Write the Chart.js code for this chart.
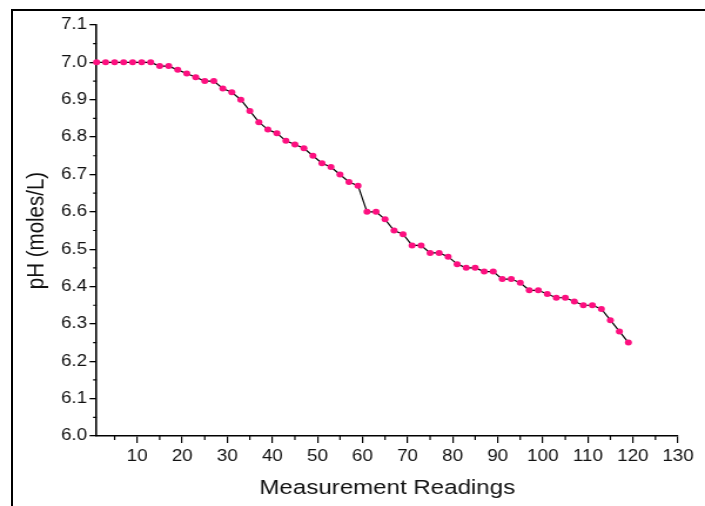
<!DOCTYPE html>
<html lang="en">
<head>
  <meta charset="UTF-8">
  <title>pH vs Measurement Readings</title>
  <script src="https://cdn.jsdelivr.net/npm/chart.js@4.4.0/dist/chart.umd.min.js"></script>
  <style>
    html, body { margin: 0; padding: 0; background: #fff; }
    #wrap { position: relative; width: 705px; height: 506px; overflow: hidden; }
    #frame {
      position: absolute; left: 11px; top: 9px; width: 720px; height: 520px;
      border-left: 2px solid #000; border-top: 2px solid #000;
    }
    /* the plot is drawn narrow and stretched sideways to fill the page */
    #plot { position: absolute; left: 0; top: 0; width: 600px; height: 506px;
            transform: scaleX(1.175); transform-origin: 0 0; }
  </style>
</head>
<body>
  <div id="wrap">
    <div id="frame"></div>
    <div id="plot"><canvas id="phChart" width="600" height="506"></canvas></div>
  </div>
  <script>
    const readings = [1, 3, 5, 7, 9, 11, 13, 15, 17, 19, 21, 23, 25, 27, 29, 31, 33, 35, 37, 39,
      41, 43, 45, 47, 49, 51, 53, 55, 57, 59, 61, 63, 65, 67, 69, 71, 73, 75, 77, 79,
      81, 83, 85, 87, 89, 91, 93, 95, 97, 99, 101, 103, 105, 107, 109, 111, 113, 115, 117, 119];
    const phValues = [7.00, 7.00, 7.00, 7.00, 7.00, 7.00, 7.00, 6.99, 6.99, 6.98, 6.97, 6.96, 6.95, 6.95, 6.93, 6.92, 6.90, 6.87, 6.84, 6.82,
      6.81, 6.79, 6.78, 6.77, 6.75, 6.73, 6.72, 6.70, 6.68, 6.67, 6.60, 6.60, 6.58, 6.55, 6.54, 6.51, 6.51, 6.49, 6.49, 6.48,
      6.46, 6.45, 6.45, 6.44, 6.44, 6.42, 6.42, 6.41, 6.39, 6.39, 6.38, 6.37, 6.37, 6.36, 6.35, 6.35, 6.34, 6.31, 6.28, 6.25];
    const xTicks = [10, 20, 30, 40, 50, 60, 70, 80, 90, 100, 110, 120, 130];
    const xMinorTicks = [5, 15, 25, 35, 45, 55, 65, 75, 85, 95, 105, 115, 125];
    const yTicks = [6.0, 6.1, 6.2, 6.3, 6.4, 6.5, 6.6, 6.7, 6.8, 6.9, 7.0, 7.1];
    const yMinorTicks = [6.05, 6.15, 6.25, 6.35, 6.45, 6.55, 6.65, 6.75, 6.85, 6.95, 7.05];

    const tickFont = { family: '"Liberation Sans", Arial, sans-serif', size: 16 };
    const titleFont = { family: '"Liberation Sans", Arial, sans-serif', size: 20.5 };

    // short minor ticks between the labelled ones
    const minorTicks = {
      id: 'minorTicks',
      afterDraw(chart) {
        const { ctx, chartArea, scales } = chart;
        ctx.save();
        ctx.strokeStyle = '#000';
        ctx.lineWidth = 1.2;
        ctx.beginPath();
        xMinorTicks.forEach(v => {
          const px = scales.x.getPixelForValue(v);
          ctx.moveTo(px, chartArea.bottom);
          ctx.lineTo(px, chartArea.bottom + 4);
        });
        yMinorTicks.forEach(v => {
          const py = scales.y.getPixelForValue(v);
          ctx.moveTo(chartArea.left - 3, py);
          ctx.lineTo(chartArea.left, py);
        });
        ctx.stroke();
        ctx.restore();
      }
    };

    new Chart(document.getElementById('phChart'), {
      type: 'line',
      data: {
        datasets: [{
          data: readings.map((r, i) => ({ x: r, y: phValues[i] })),
          borderColor: '#000',
          borderWidth: 1.2,
          tension: 0,
          pointRadius: 3,
          pointBorderWidth: 0,
          pointBackgroundColor: '#fd1080',
          pointHoverRadius: 3,
          clip: false
        }]
      },
      options: {
        responsive: false,
        devicePixelRatio: 1,
        animation: false,
        events: [],
        layout: { padding: { top: 25, right: 23, left: 0, bottom: 0 } },
        plugins: { legend: { display: false }, tooltip: { enabled: false } },
        scales: {
          x: {
            type: 'linear',
            min: 1,
            max: 130,
            afterBuildTicks: scale => { scale.ticks = xTicks.map(v => ({ value: v })); },
            afterFit: scale => { scale.height = 70; },
            ticks: { font: tickFont, color: '#111', padding: 4, maxRotation: 0, callback: v => String(v) },
            grid: { drawOnChartArea: false, drawTicks: true, tickLength: 7, color: '#000', lineWidth: 1.2 },
            border: { display: true, color: '#000', width: 1.6 },
            title: { display: true, text: 'Measurement Readings', font: titleFont, color: '#111', padding: { top: 0, bottom: 5 } }
          },
          y: {
            min: 6.0,
            max: 7.1,
            afterBuildTicks: scale => { scale.ticks = yTicks.map(v => ({ value: v })); },
            afterFit: scale => { scale.width = 82.2; },
            ticks: { font: tickFont, color: '#111', padding: 2, callback: v => Number(v).toFixed(1) },
            grid: { drawOnChartArea: false, drawTicks: true, tickLength: 6, color: '#000', lineWidth: 1.3 },
            border: { display: true, color: '#000', width: 1.6 },
            title: { display: true, text: 'pH (moles/L)', font: titleFont, color: '#111', padding: { top: 19, bottom: 0 } }
          }
        }
      },
      plugins: [minorTicks]
    });
  </script>
</body>
</html>
